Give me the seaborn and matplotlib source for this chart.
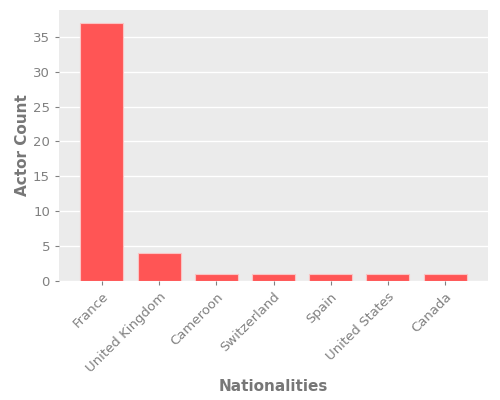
import pandas as pd
import matplotlib
matplotlib.use("Agg")
import matplotlib.pyplot as plt
import seaborn as sns

# Datos
nationalities = ["France", "United Kingdom", "Cameroon", "Switzerland", "Spain", "United States", "Canada"]
actor_counts = [37, 4, 1, 1, 1, 1, 1]

df = pd.DataFrame({"Nationality": nationalities, "Count": actor_counts})

sns.set_style("darkgrid", {
    "axes.facecolor": "#EBEBEB",
    "grid.color": "white",
    "xtick.bottom": True,
    "ytick.left": True,
})

fig, ax = plt.subplots(figsize=(5, 4), dpi=100)
fig.subplots_adjust(left=0.118, right=0.976, top=0.975, bottom=0.2975)

sns.barplot(data=df, x="Nationality", y="Count", color="#FF5555", saturation=1,
            width=0.75, edgecolor="#FBC4C4", linewidth=0.8, ax=ax)

ax.set_xlim(-0.75, 6.75)
ax.set_ylim(0, 38.85)
ax.xaxis.grid(False)
ax.yaxis.grid(True, color="white", linewidth=1)
for s in ax.spines.values():
    s.set_visible(False)

ax.tick_params(axis="both", colors="#808080", labelsize=9.5, length=3, width=0.8)
plt.setp(ax.get_xticklabels(), rotation=45, ha="right", rotation_mode="anchor")
ax.set_xlabel("Nationalities", fontsize=11, color="#777777", fontweight="bold", labelpad=3)
ax.set_ylabel("Actor Count", fontsize=11, color="#777777", fontweight="bold", labelpad=2)

fig.savefig("out.png", dpi=100)
